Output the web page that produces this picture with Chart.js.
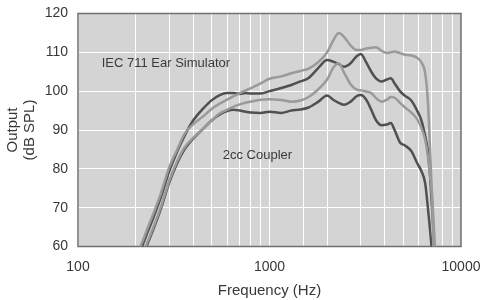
<!DOCTYPE html>
<html>
<head>
<meta charset="utf-8">
<script src="https://cdn.jsdelivr.net/npm/chart.js@4"></script>
<style>
    html, body { margin: 0; padding: 0; background: #ffffff; }
    #wrap { width: 483px; height: 300px; }
</style>
</head>
<body>
<div id="wrap"><canvas id="responseChart" width="483" height="300"></canvas></div>
<script>
// Frequencies (Hz) shared by all four curves
const frequencies = [200, 210, 220, 230, 250, 270, 300, 330, 360, 400, 450, 500, 550, 600, 650, 700, 750, 800, 900,
    1000, 1150, 1300, 1450, 1600, 1800, 2000, 2150, 2300, 2450, 2650, 2850, 3000, 3200, 3400, 3600, 3850,
    4100, 4300, 4500, 4800, 5100, 5500, 5900, 6200, 6500, 6700, 6900, 7050, 7200, 7300, 7400];

// IEC 711 ear simulator, light trace
const iecLight = [56, 59.5, 62, 64.5, 69, 73.5, 80.5, 85, 89, 91.5, 93.5, 95.5, 96.8, 97.8, 98.7, 99.5, 100.2, 100.8, 102,
    103.2, 103.8, 104.6, 105.2, 105.8, 107.5, 110, 113, 115, 114, 111.8, 110.6, 110.6, 111, 111.2, 111.3, 110.4,
    109.8, 110, 110.2, 109.8, 109.4, 109.2, 108.6, 107.5, 104.6, 98, 85, 73, 57, 50, 45];
// IEC 711 ear simulator, dark trace
const iecDark = [55, 58.5, 61, 63.5, 68, 72.5, 79.5, 84.5, 88.5, 92.5, 95.5, 97.7, 99, 99.5, 99.5, 99.3, 99.5, 99.4, 99.4,
    100, 100.8, 101.6, 102.5, 103.4, 106, 108, 107.6, 107, 106.3, 107.2, 109, 109.6, 107.4, 105, 103.3, 102.5,
    103, 103.3, 102, 100, 98.8, 97.6, 95, 92.6, 88.5, 85, 78, 70.3, 62, 57, 50];
// 2cc coupler, light trace
const couplerLight = [52, 55, 58.5, 61, 65.5, 70, 77, 82, 85.5, 88, 90.3, 92.5, 94.3, 95.2, 96, 96.6, 97, 97.3, 97.8,
    97.9, 97.7, 97.3, 97.6, 98.5, 100.5, 103, 106, 107.2, 104.8, 101.8, 100.4, 100.2, 99.9, 99.5, 98.2, 97.3,
    97.8, 98.5, 98.3, 97, 95.8, 94.5, 92.8, 90.6, 87.5, 83.5, 78, 74, 66, 60.5, 56];
// 2cc coupler, dark trace
const couplerDark = [51.5, 54.5, 58, 60.5, 65, 69.5, 76.5, 81.5, 85, 87.8, 90.3, 92.5, 94, 94.9, 95.2, 95, 94.7, 94.5, 94.4,
    94.7, 94.4, 95, 95.3, 95.8, 97.3, 98.9, 97.8, 97, 96.5, 97.3, 98.7, 99, 97.8, 95.2, 92.5, 91.2,
    91.4, 91.8, 90, 86.8, 86, 84.6, 81.5, 79.5, 76.3, 70.5, 64, 59, 55, 50, 45];

const xLabels = [100, 1000, 10000];
const yTicks = [60, 70, 80, 90, 100, 110, 120];

// Curve labels placed in data space (Hz, dB)
const notes = [
    {text: 'IEC 711 Ear Simulator', freq: 133, level: 107.2},
    {text: '2cc Coupler', freq: 570, level: 83.4}
];

function toPoints(values) {
    return frequencies.map((f, i) => ({x: f, y: values[i]}));
}

function makeSeries(label, values, color) {
    return {
        label: label,
        data: toPoints(values),
        borderColor: color,
        borderWidth: 2.5,
        pointRadius: 0,
        fill: false,
        cubicInterpolationMode: 'monotone'
    };
}

function noScalePadding(scale) {
    scale.paddingTop = 0;
    scale.paddingBottom = 0;
    scale.paddingLeft = 0;
    scale.paddingRight = 0;
}

const plotBackground = {
    id: 'plotBackground',
    beforeDraw(chart) {
        const {ctx, chartArea} = chart;
        ctx.save();
        ctx.fillStyle = '#d4d4d5';
        ctx.fillRect(chartArea.left, chartArea.top, chartArea.width, chartArea.height);
        ctx.restore();
    },
    beforeDatasetsDraw(chart) {
        const {ctx, chartArea} = chart;
        ctx.save();
        ctx.strokeStyle = '#6f6f6f';
        ctx.lineWidth = 1.5;
        ctx.strokeRect(chartArea.left, chartArea.top, chartArea.width, chartArea.height);
        ctx.restore();
    },
    afterDatasetsDraw(chart) {
        const {ctx, scales} = chart;
        ctx.save();
        ctx.fillStyle = '#3a3a3a';
        ctx.font = '13px "Liberation Sans", Arial, sans-serif';
        ctx.textBaseline = 'middle';
        ctx.textAlign = 'left';
        notes.forEach(n => {
            ctx.fillText(n.text, scales.x.getPixelForValue(n.freq), scales.y.getPixelForValue(n.level));
        });
        ctx.restore();
    }
};

const ctx = document.getElementById('responseChart').getContext('2d');
new Chart(ctx, {
    type: 'line',
    data: {
        datasets: [
            makeSeries('IEC 711 (light)', iecLight, '#9a9a9a'),
            makeSeries('2cc (light)', couplerLight, '#9a9a9a'),
            makeSeries('IEC 711 (dark)', iecDark, '#505050'),
            makeSeries('2cc (dark)', couplerDark, '#505050')
        ]
    },
    options: {
        responsive: false,
        animation: false,
        layout: {padding: {top: 13.5, right: 22, left: 0, bottom: 0}},
        plugins: {legend: {display: false}, tooltip: {enabled: false}},
        scales: {
            x: {
                type: 'logarithmic',
                min: 100,
                max: 10000,
                afterFit(scale) { scale.height = 53.5; noScalePadding(scale); },
                grid: {color: '#ffffff', lineWidth: 1, drawTicks: false},
                border: {display: false},
                ticks: {
                    autoSkip: false,
                    maxRotation: 0,
                    padding: 12,
                    color: '#383838',
                    font: {family: '"Liberation Sans", Arial, sans-serif', size: 14},
                    callback: value => xLabels.includes(value) ? String(value) : ''
                },
                title: {
                    display: true,
                    text: 'Frequency (Hz)',
                    color: '#383838',
                    font: {family: '"Liberation Sans", Arial, sans-serif', size: 15},
                    padding: {top: 2, bottom: 0}
                }
            },
            y: {
                min: 60,
                max: 120,
                afterFit(scale) { scale.width = 78; noScalePadding(scale); },
                afterBuildTicks(scale) { scale.ticks = yTicks.map(v => ({value: v})); },
                grid: {color: '#ffffff', lineWidth: 1, drawTicks: false},
                border: {display: false},
                ticks: {
                    padding: 10,
                    color: '#383838',
                    font: {family: '"Liberation Sans", Arial, sans-serif', size: 14}
                },
                title: {
                    display: true,
                    text: ['Output', '(dB SPL)'],
                    color: '#383838',
                    font: {family: '"Liberation Sans", Arial, sans-serif', size: 15, lineHeight: 1.15},
                    padding: {top: 4, bottom: 0}
                }
            }
        }
    },
    plugins: [plotBackground]
});
</script>
</body>
</html>
